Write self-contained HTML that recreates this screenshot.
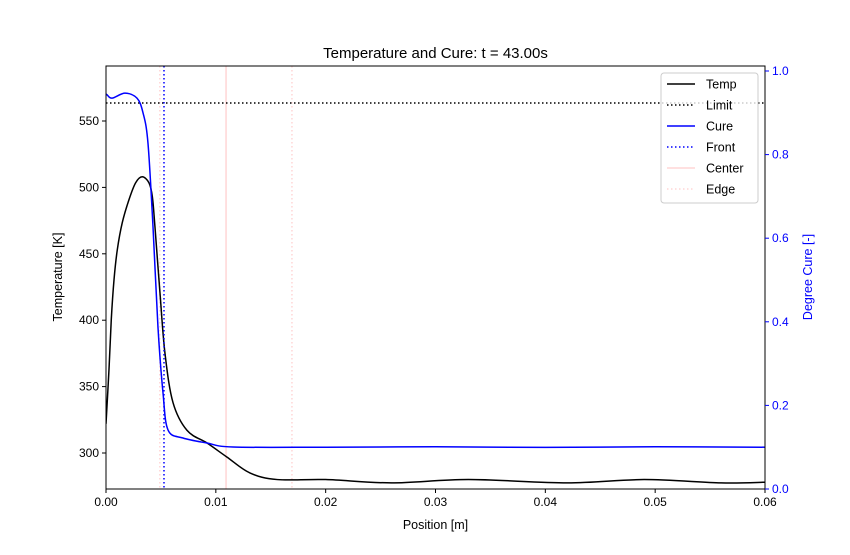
<!DOCTYPE html>
<html><head><meta charset="utf-8"><style>
body{margin:0;background:#fff;}
svg text{font-family:"Liberation Sans","DejaVu Sans",sans-serif;}
</style></head><body>
<svg id="chart" width="850" height="550" viewBox="0 0 850 550"></svg>
<script>
const tempX=[0,0.00027,0.00048,0.00073,0.00103,0.00148,0.00209,0.0027,0.0033,0.00391,0.00422,0.00446,0.00492,0.00537,0.0061,0.00738,0.0092,0.011,0.0131,0.0156,0.02,0.026,0.033,0.042,0.049,0.056,0.06];
const tempY=[322,362.7,400.4,430.5,453.1,473.4,490.7,503.5,508,503.5,493,470,420,375,338,317,307.5,297,285,280,280,277.5,280,277.5,280,277.5,278];
const cureX=[0,0.0001,0.00055,0.00173,0.00282,0.00337,0.00382,0.00428,0.00473,0.00519,0.00565,0.00701,0.0092,0.01156,0.02,0.03,0.04,0.05,0.06];
const cureY=[0.945,0.943,0.935,0.947,0.935,0.90,0.828,0.627,0.388,0.23,0.141,0.122,0.110,0.1005,0.1,0.101,0.0995,0.101,0.1];
const limitTemp=563.6;
const frontX=0.00528, centerX=0.01093, edgeX=0.01693, edge2X=0.0049;
const xTicks=[0,0.01,0.02,0.03,0.04,0.05,0.06];
const xTickLabels=["0.00","0.01","0.02","0.03","0.04","0.05","0.06"];
const yTicks=[300,350,400,450,500,550];
const y2Ticks=[0,0.2,0.4,0.6,0.8,1.0];
const y2TickLabels=["0.0","0.2","0.4","0.6","0.8","1.0"];

const L=106,R=765,T=66,B=489;
const sx=v=>L+(v/0.06)*(R-L);
const sy=v=>453-(v-300)*1.328;
const sy2=v=>489-v*418;
const svg=document.getElementById('chart');
const NS='http://www.w3.org/2000/svg';
function mk(tag,attrs,parent){const e=document.createElementNS(NS,tag);for(const k in attrs)e.setAttribute(k,attrs[k]);(parent||svg).appendChild(e);return e;}
function smooth(pts){let d='M'+pts[0][0]+','+pts[0][1];for(let i=0;i<pts.length-1;i++){const p0=pts[Math.max(0,i-1)],p1=pts[i],p2=pts[i+1],p3=pts[Math.min(pts.length-1,i+2)];const c1=[p1[0]+(p2[0]-p0[0])/6,p1[1]+(p2[1]-p0[1])/6];const c2=[p2[0]-(p3[0]-p1[0])/6,p2[1]-(p3[1]-p1[1])/6];d+=' C'+c1[0].toFixed(2)+','+c1[1].toFixed(2)+' '+c2[0].toFixed(2)+','+c2[1].toFixed(2)+' '+p2[0].toFixed(2)+','+p2[1].toFixed(2);}return d;}

const clip=mk('clipPath',{id:'pa'});mk('rect',{x:L,y:T,width:R-L,height:B-T},clip);
const g=mk('g',{'clip-path':'url(#pa)'});

let e;
e=mk('line',{x1:sx(edge2X),x2:sx(edge2X),y1:T,y2:B,stroke:'#ffd6d6','stroke-width':1.5,'stroke-dasharray':'1.5,2.5'},g);

e=mk('line',{x1:sx(centerX),x2:sx(centerX),y1:T,y2:B,stroke:'#ffd6d6','stroke-width':1.5},g);

e=mk('line',{x1:sx(edgeX),x2:sx(edgeX),y1:T,y2:B,stroke:'#ffd6d6','stroke-width':1.5,'stroke-dasharray':'1.5,2.5'},g);

e=mk('line',{x1:L,x2:R,y1:sy(limitTemp),y2:sy(limitTemp),stroke:'#000','stroke-width':1.5,'stroke-dasharray':'1.5,2.5'},g);

e=mk('path',{d:smooth(tempX.map((x,i)=>[sx(x),sy(tempY[i])])),fill:'none',stroke:'#000','stroke-width':1.5},g);

e=mk('path',{d:smooth(cureX.map((x,i)=>[sx(x),sy2(cureY[i])])),fill:'none',stroke:'#0000ff','stroke-width':1.5},g);

e=mk('line',{x1:sx(frontX),x2:sx(frontX),y1:T,y2:B,stroke:'#0000ff','stroke-width':1.5,'stroke-dasharray':'1.5,2.5'},g);


e=mk('rect',{x:L,y:T,width:R-L,height:B-T,fill:'none',stroke:'#000','stroke-width':1});


xTicks.forEach((v,i)=>{const x=sx(v);mk('line',{x1:x,x2:x,y1:B,y2:B+4,stroke:'#000'});
 const t=mk('text',{x:x,y:B+17,'font-size':12,'text-anchor':'middle'});t.textContent=xTickLabels[i];
 });
yTicks.forEach(v=>{const y=sy(v);mk('line',{x1:L-4,x2:L,y1:y,y2:y,stroke:'#000'});
 const t=mk('text',{x:L-7,y:y+4,'font-size':12,'text-anchor':'end'});t.textContent=v;
 });
y2Ticks.forEach((v,i)=>{const y=sy2(v);mk('line',{x1:R,x2:R+4,y1:y,y2:y,stroke:'#0000ff'});
 const t=mk('text',{x:R+7,y:y+4,'font-size':12,fill:'#0000ff'});t.textContent=y2TickLabels[i];
 });

let t=mk('text',{x:435.5,y:58,'font-size':15,'text-anchor':'middle'});t.textContent='Temperature and Cure: t = 43.00s';

t=mk('text',{x:435.5,y:529,'font-size':12.5,'text-anchor':'middle'});t.textContent='Position [m]';

t=mk('text',{x:62,y:277,'font-size':12.5,'text-anchor':'middle',transform:'rotate(-90 62 277)'});t.textContent='Temperature [K]';

t=mk('text',{x:812,y:277,'font-size':12.5,'text-anchor':'middle',fill:'#0000ff',transform:'rotate(-90 812 277)'});t.textContent='Degree Cure [-]';


const lg=mk('g',{});

mk('rect',{x:661,y:73,width:97,height:130,rx:3,fill:'#fff','fill-opacity':0.8,stroke:'#ccc'},lg);
const items=[['Temp','#000',''],['Limit','#000','1.5,2.5'],['Cure','#0000ff',''],['Front','#0000ff','1.5,2.5'],['Center','#ffd6d6',''],['Edge','#ffd6d6','1.5,2.5']];
items.forEach((it,i)=>{const y=84+i*21;
 const gi=mk('g',{},lg);
 
 const a={x1:667,x2:695,y1:y,y2:y,stroke:it[1],'stroke-width':1.5};if(it[2])a['stroke-dasharray']=it[2];mk('line',a,gi);
 const tt=mk('text',{x:706,y:y+4.5,'font-size':12.5},gi);tt.textContent=it[0];});
</script>
</body></html>
